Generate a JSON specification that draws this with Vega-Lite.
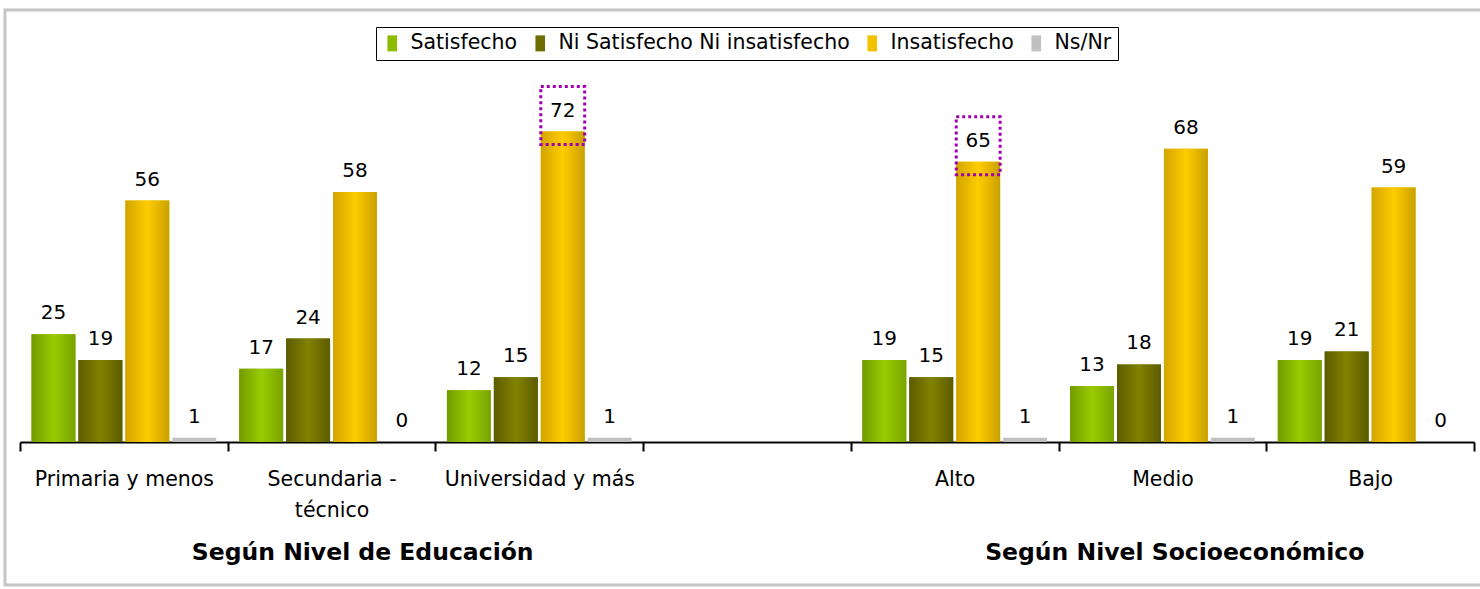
{
  "$schema": "https://vega.github.io/schema/vega-lite/v6.json",
  "width": 1475,
  "height": 575,
  "autosize": {"type": "none"},
  "padding": {"left": 5, "top": 10, "right": 0, "bottom": 4},
  "background": "white",
  "config": {"view": {"stroke": "#C4C4C4", "strokeWidth": 3, "strokeDash": [1475, 575, 2050]}, "font": "DejaVu Sans"},
  "data": {
    "values": [
      {"cat": "Primaria y menos", "series": "Satisfecho", "value": 25},
      {"cat": "Primaria y menos", "series": "Ni Satisfecho Ni insatisfecho", "value": 19},
      {"cat": "Primaria y menos", "series": "Insatisfecho", "value": 56},
      {"cat": "Primaria y menos", "series": "Ns/Nr", "value": 1},
      {"cat": "Secundaria - técnico", "series": "Satisfecho", "value": 17},
      {"cat": "Secundaria - técnico", "series": "Ni Satisfecho Ni insatisfecho", "value": 24},
      {"cat": "Secundaria - técnico", "series": "Insatisfecho", "value": 58},
      {"cat": "Secundaria - técnico", "series": "Ns/Nr", "value": 0},
      {"cat": "Universidad y más", "series": "Satisfecho", "value": 12},
      {"cat": "Universidad y más", "series": "Ni Satisfecho Ni insatisfecho", "value": 15},
      {"cat": "Universidad y más", "series": "Insatisfecho", "value": 72},
      {"cat": "Universidad y más", "series": "Ns/Nr", "value": 1},
      {"cat": "Alto", "series": "Satisfecho", "value": 19},
      {"cat": "Alto", "series": "Ni Satisfecho Ni insatisfecho", "value": 15},
      {"cat": "Alto", "series": "Insatisfecho", "value": 65},
      {"cat": "Alto", "series": "Ns/Nr", "value": 1},
      {"cat": "Medio", "series": "Satisfecho", "value": 13},
      {"cat": "Medio", "series": "Ni Satisfecho Ni insatisfecho", "value": 18},
      {"cat": "Medio", "series": "Insatisfecho", "value": 68},
      {"cat": "Medio", "series": "Ns/Nr", "value": 1},
      {"cat": "Bajo", "series": "Satisfecho", "value": 19},
      {"cat": "Bajo", "series": "Ni Satisfecho Ni insatisfecho", "value": 21},
      {"cat": "Bajo", "series": "Insatisfecho", "value": 59},
      {"cat": "Bajo", "series": "Ns/Nr", "value": 0}
    ]
  },
  "layer": [
    {
      "mark": {"type": "bar"},
      "encoding": {
        "x": {
          "field": "cat", "type": "nominal", "sort": null,
          "scale": {"domain": ["Primaria y menos", "Secundaria - técnico", "Universidad y más", " ", "Alto", "Medio", "Bajo"], "range": [15, 1469], "paddingInner": 0, "paddingOuter": 0},
          "axis": {
            "title": null, "offset": -143, "domainColor": "black", "domainWidth": 2, "tickColor": "black", "tickWidth": 2, "tickSize": 9,
            "tickBand": "extent", "labelAngle": 0, "labelFontSize": 20.5, "labelColor": "black", "labelPadding": 18,
            "labelLineHeight": 31, "labelLimit": 400,
            "labelExpr": "datum.label == 'Secundaria - técnico' ? ['Secundaria -', 'técnico'] : datum.label"
          }
        },
        "xOffset": {"field": "series", "type": "nominal", "sort": null, "scale": {"domain": ["Satisfecho", "Ni Satisfecho Ni insatisfecho", "Insatisfecho", "Ns/Nr"], "paddingInner": 0.064, "paddingOuter": 0.245}},
        "y": {"field": "value", "type": "quantitative", "scale": {"domain": [0, 80], "range": [432, 87]}, "axis": null},
        "color": {
          "field": "series", "type": "nominal", "sort": null,
          "scale": {"domain": ["Satisfecho", "Ni Satisfecho Ni insatisfecho", "Insatisfecho", "Ns/Nr"], "range": ["#8DBB00", "#6E6E00", "#F2C200", "#C0C0C0"]},
          "legend": {
            "orient": "none", "legendX": 371, "legendY": 17, "direction": "horizontal", "columns": 4, "title": null,
            "symbolType": "M-0.6,-1L0.6,-1L0.6,1L-0.6,1Z", "symbolSize": 256, "symbolStrokeWidth": 0, "labelFontSize": 20.5, "labelColor": "black",
            "strokeColor": "black", "fillColor": "white", "padding": 6, "columnPadding": 12, "labelOffset": 8, "labelLimit": 400
          }
        }
      }
    },
    {
      "transform": [{"filter": "datum.series == 'Satisfecho'"}],
      "mark": {"type": "bar", "fill": {"gradient": "linear", "x1": 0, "x2": 1, "y1": 0, "y2": 0, "stops": [{"offset": 0, "color": "#739A00"}, {"offset": 0.5, "color": "#99CC00"}, {"offset": 1, "color": "#7AA300"}]}},
      "encoding": {
        "x": {"field": "cat", "type": "nominal", "sort": null},
        "xOffset": {"field": "series", "type": "nominal", "sort": null},
        "y": {"field": "value", "type": "quantitative"}
      }
    },
    {
      "transform": [{"filter": "datum.series == 'Ni Satisfecho Ni insatisfecho'"}],
      "mark": {"type": "bar", "fill": {"gradient": "linear", "x1": 0, "x2": 1, "y1": 0, "y2": 0, "stops": [{"offset": 0, "color": "#5C5C00"}, {"offset": 0.5, "color": "#828200"}, {"offset": 1, "color": "#5C5C00"}]}},
      "encoding": {
        "x": {"field": "cat", "type": "nominal", "sort": null},
        "xOffset": {"field": "series", "type": "nominal", "sort": null},
        "y": {"field": "value", "type": "quantitative"}
      }
    },
    {
      "transform": [{"filter": "datum.series == 'Insatisfecho'"}],
      "mark": {"type": "bar", "fill": {"gradient": "linear", "x1": 0, "x2": 1, "y1": 0, "y2": 0, "stops": [{"offset": 0, "color": "#D1A500"}, {"offset": 0.5, "color": "#FFCC00"}, {"offset": 1, "color": "#C9A000"}]}},
      "encoding": {
        "x": {"field": "cat", "type": "nominal", "sort": null},
        "xOffset": {"field": "series", "type": "nominal", "sort": null},
        "y": {"field": "value", "type": "quantitative"}
      }
    },
    {
      "mark": {"type": "text", "baseline": "alphabetic", "dy": -15, "fontSize": 20, "color": "black"},
      "encoding": {
        "x": {"field": "cat", "type": "nominal", "sort": null},
        "xOffset": {"field": "series", "type": "nominal", "sort": null},
        "y": {"field": "value", "type": "quantitative"},
        "text": {"field": "value", "type": "quantitative"}
      }
    },
    {
      "transform": [{"filter": "datum.series == 'Insatisfecho' && (datum.cat == 'Universidad y más' || datum.cat == 'Alto')"}],
      "mark": {"type": "rect", "fill": null, "stroke": "#A000B0", "strokeWidth": 3, "strokeDash": [3, 3], "yOffset": -45, "y2Offset": 13},
      "encoding": {
        "x": {"field": "cat", "type": "nominal", "sort": null},
        "xOffset": {"field": "series", "type": "nominal", "sort": null},
        "y": {"field": "value", "type": "quantitative"},
        "y2": {"field": "value"}
      }
    },
    {
      "data": {"values": [{"cat": "Secundaria - técnico", "t": "Según Nivel de Educación"}, {"cat": "Medio", "t": "Según Nivel Socioeconómico"}]},
      "mark": {"type": "text", "fontSize": 23.5, "fontWeight": "bold", "color": "black", "baseline": "middle", "align": "right", "dx": 202},
      "encoding": {
        "x": {"field": "cat", "type": "nominal", "sort": null},
        "y": {"datum": -25.8, "type": "quantitative"},
        "text": {"field": "t"}
      }
    }
  ]
}
